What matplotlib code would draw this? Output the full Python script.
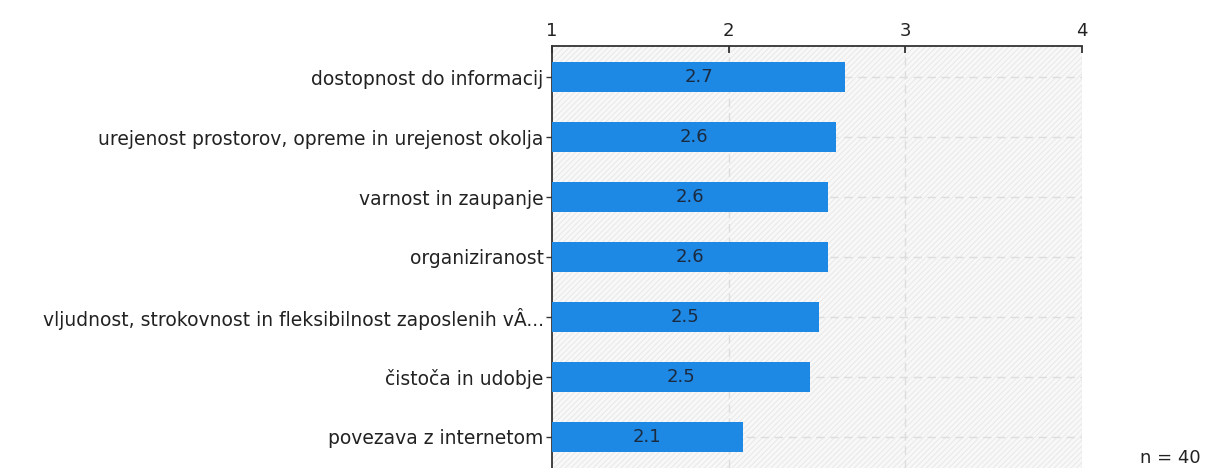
import matplotlib
matplotlib.use("Agg")
import matplotlib.pyplot as plt
from matplotlib.patches import Rectangle

categories = [
    "dostopnost do informacij",
    "urejenost prostorov, opreme in urejenost okolja",
    "varnost in zaupanje",
    "organiziranost",
    "vljudnost, strokovnost in fleksibilnost zaposlenih vÂ...",
    "čistoča in udobje",
    "povezava z internetom",
]
values = [2.66, 2.61, 2.56, 2.56, 2.51, 2.46, 2.08]
xticks = [1, 2, 3, 4]
n_label = "n = 40"

plt.rcParams['font.family'] = ['DejaVu Sans']
plt.rcParams['hatch.linewidth'] = 0.6
fig = plt.figure(figsize=(12.05, 4.68), dpi=100)
ax = fig.add_axes([552/1205, 0.0, (1082-552)/1205, 1 - 46/468])

ax.set_facecolor('#f8f8f8')
bg = Rectangle((0, 0), 1, 1, transform=ax.transAxes, facecolor='#f8f8f8',
               edgecolor='#e6e6e6', hatch='//////', linewidth=0, zorder=0)
ax.add_patch(bg)

y = list(range(len(categories)))
ax.barh(y, [v - 1 for v in values], left=1, height=0.5, color='#1e88e5', zorder=3)
for yi, v in zip(y, values):
    ax.text(1 + (v - 1) / 2, yi, f"{v:.1f}", ha='center', va='center',
            fontsize=13, color='#1b2b3f', zorder=4)

ax.set_xlim(1, 4)
ax.set_ylim(6.52, -0.52)
ax.set_xticks(xticks)
ax.set_xticklabels([str(t) for t in xticks])
ax.xaxis.tick_top()
ax.tick_params(axis='x', direction='in', length=5, width=1.2, colors='#222222',
               labelsize=13, pad=4, labelcolor='#222222')
ax.set_yticks(y)
ax.set_yticklabels(categories)
ax.tick_params(axis='y', direction='out', length=4, width=1, colors='#333333',
               labelsize=13.5, pad=2, labelcolor='#222222')

for xt in xticks[1:]:
    ax.axvline(xt, color='#dddddd', linestyle=(0, (6, 4)), linewidth=1, zorder=1)
for yi in y:
    ax.axhline(yi, color='#dddddd', linestyle=(0, (6, 4)), linewidth=1, zorder=1)

for s in ['right', 'bottom']:
    ax.spines[s].set_visible(False)
ax.spines['top'].set_color('#333333')
ax.spines['top'].set_linewidth(1.3)
ax.spines['left'].set_color('#333333')
ax.spines['left'].set_linewidth(1.3)

fig.text(1140/1205, 1 - 458/468, n_label, fontsize=13, color='#222222',
         ha='left', va='center')

fig.savefig("out.png", dpi=100)
